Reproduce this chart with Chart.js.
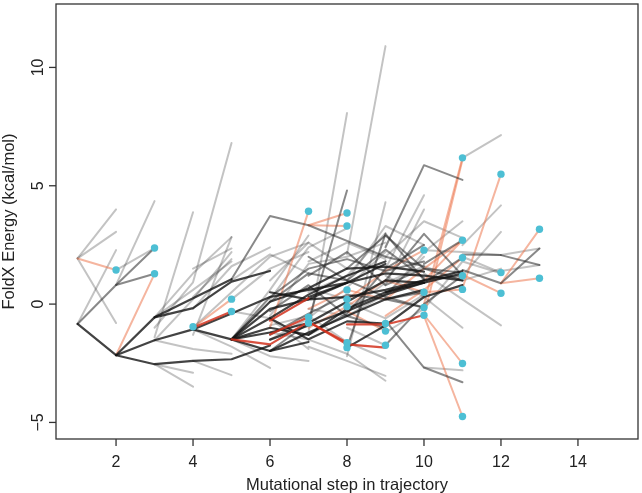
<!DOCTYPE html>
<html>
<head>
<meta charset="utf-8">
<script src="https://cdn.jsdelivr.net/npm/chart.js@4.4.1/dist/chart.umd.min.js"></script>
<style>
  html, body { margin: 0; padding: 0; background: #fff; }
  #wrap { width: 642px; height: 493px; }
</style>
</head>
<body>
<div id="wrap"><canvas id="foldx" width="642" height="493"></canvas></div>
<script>
// each path: [first step, energy at that step, energy at next step, ...]
var lightPaths = [
  [1, 1.93, 4.0], [1, 1.93, 3.05], [1, 1.93, -0.8], [1, -0.84, 2.28],
  [2, 0.81, 4.35], [2, 1.44, 2.37],
  [3, -1.4, 3.88], [3, -0.56, 1.3, 2.83], [3, -1.0, 0.92, 6.81],
  [3, -2.54, -2.9], [3, -2.54, -3.49], [3, -1.53, 0.2, 2.2],
  [3, -0.56, 0.6, 1.8], [3, -1.53, -1.9, -2.1],
  [4, -0.2, 1.6, 2.4], [4, -1.0, 0.5, 2.0, 2.6], [4, 0.3, 1.9], [4, 1.5, 2.35],
  [4, -2.4, -3.0], [4, -1.07, -1.8, -2.7], [4, -1.3, 2.83],
  [5, -1.49, 0.6, 2.9], [5, 0.2, 1.5, 2.2], [5, -1.49, -2.2, -2.4],
  [5, -0.3, -0.6, -1.9], [5, 1.0, 2.1, 1.3],
  [6, 0.2, 2.4, 3.2], [6, -0.5, 1.7, 2.0, 2.6], [6, -1.2, -1.5, -2.1, -3.24],
  [6, 1.0, 2.6, 1.5], [6, -0.9, -0.5, -1.6, -2.3], [6, -1.5, -0.6, 0.7, 2.2],
  [7, -1.8, -2.4, -3.03], [7, -1.2, 8.07], [7, 0.5, 1.2, 3.0],
  [7, -0.2, -0.5, 0.4, 2.0], [7, 0.67, 0.2], [7, 1.8, 2.6, 1.9],
  [8, 2.1, 10.9], [8, -2.2, 4.3], [8, 1.0, 3.3, 2.5],
  [8, -0.3, 0.9, 1.6, 1.0, 1.5], [8, -1.0, -1.74], [8, 0.1, -0.6, 0.4],
  [9, 0.3, 2.2, 3.5], [9, 1.5, 4.6], [9, 0.8, 4.0], [9, 2.0, 3.5, 2.8],
  [9, -1.2, -0.2, 1.8, 1.3], [9, 1.2, 0.3, -1.0], [10, 1.3, 0.2, -0.9],
  [10, 2.28, 2.2, 2.07], [10, -2.68, -2.8],
  [11, 6.18, 7.14], [11, 2.49, 4.17], [11, 1.2, 3.05], [11, 2.0, 1.33],
  [12, 1.4, 1.65], [12, 2.07, 2.35]
];

var midPaths = [
  [1, -0.84, 0.81, 2.37], [2, 0.81, 1.28],
  [5, 1.05, 3.72, 3.33, 2.67, 2.0, 1.6],
  [6, -1.98, -0.8], [7, -0.7, 4.8],
  [8, -1.84, 2.97, 1.02, 1.2],
  [9, 2.4, 5.87, 5.25], [9, 1.0, 2.97, 1.2], [9, -0.7, -2.68, -3.3],
  [6, 0.1, 1.3, 1.0, 2.3, 1.1], [5, -1.49, 0.3, 1.5, 1.9, 1.4, 1.8],
  [7, 1.2, 2.2, 0.8, 1.5, 1.33], [6, -1.3, -0.4, 0.4, 0.2, -0.14],
  [7, -1.3, -0.4, 1.5, 2.5], [8, 1.5, 2.9, 1.5, 1.0], [6, -0.3, 0.8, -0.5, -1.0],
  [9, -1.74, 0.0, 1.2], [7, 2.0, 1.0, 0.3, -0.14],
  [9, 0.2, 0.5], [10, 1.7, 2.7], [10, 0.9, 1.96],
  [11, 1.44, 0.88, 2.35], [11, 2.1, 2.07, 1.65]
];

var darkPaths = [
  [1, -0.84, -2.16, -0.56, 0.25, 1.05],
  [2, -2.16, -1.53, -1.07, -1.49, -1.98, -1.6],
  [2, -2.16, -2.54, -2.4, -2.33, -1.75],
  [3, -0.56, -0.17, 0.95, 1.4],
  [4, -1.07, -0.4, 0.3, 0.6, 0.9],
  [5, -1.49, -0.6, -1.49, -0.73, -0.82],
  [5, -1.49, 0.1, 0.67, 1.5, 1.58, 1.37],
  [5, -1.49, -1.0, -1.3, -0.2, 0.5, 0.9],
  [5, -1.49, -0.2, 0.2, 0.3, 0.6, 1.0],
  [5, -1.49, -1.2, -0.8, 0.1, 1.0, 0.9],
  [6, -1.98, -1.2, -0.5, 0.2, 0.6],
  [6, -1.5, -0.9, -0.3, 0.4, 0.9, 1.3],
  [6, -0.6, 0.4, 1.2, 1.8],
  [6, 0.5, 0.2, 0.9, 1.7],
  [7, 0.3, 0.9, 1.3, 1.2, 1.0],
  [8, -1.84, -0.9, 0.3, 0.8],
  [9, 0.5, 1.0, 1.4]
];

var redPaths = [
  [4, -1.0, -0.31],
  [5, -1.49, -1.7, -0.75, -1.7, -1.84],
  [6, -1.28, -0.55], [6, -0.7, 0.25],
  [7, -0.75, -1.63], [8, -0.86, -0.86, -0.47]
];

var salmonPaths = [
  [1, 1.93, 1.44], [2, -2.16, 1.28], [4, -1.0, 0.21],
  [6, -1.0, 3.92], [7, 3.33, 3.85], [7, 3.33, 3.3],
  [7, -0.2, 0.6], [7, -1.0, -0.1], [8, -0.3, -1.14],
  [8, 0.2, 1.4, 2.28], [8, 0.6, 0.2, 1.5, 2.7], [9, -0.5, 0.6, 1.96],
  [8, -0.1, 1.0, 0.5, 0.62], [10, 1.0, 2.7],
  [10, 0.0, 6.18], [10, -0.5, 6.1], [10, -0.5, -4.75], [10, -0.45, -2.51],
  [11, 0.67, 5.49], [11, 1.24, 0.46], [12, 0.88, 3.16], [12, 0.88, 1.09]
];

// trajectory end points (cyan dots)
var endSteps = [2, 3, 3, 4, 5, 5, 7, 7, 7, 8, 8, 8, 8, 8, 8, 8, 9, 9, 9,
  10, 10, 10, 10, 11, 11, 11, 11, 11, 11, 11, 12, 12, 12, 13, 13];
var endValues = [1.44, 2.37, 1.28, -0.96, 0.21, -0.31, 3.92, -0.55, -0.8,
  3.85, 3.3, 0.6, 0.2, -0.1, -1.63, -1.84, -0.82, -1.14, -1.74,
  2.28, 0.5, -0.14, -0.47, 6.18, 2.7, 1.96, 1.2, 0.62, -2.51, -4.75,
  5.49, 1.33, 0.46, 3.16, 1.09];

var xTicks = [2, 4, 6, 8, 10, 12, 14];
var yTicks = [-5, 0, 5, 10];
var yTickLabels = ['\u22125', '0', '5', '10'];

var FONT = '"Liberation Sans", Arial, Helvetica, sans-serif';

function toPoints(path) {
  var pts = [];
  for (var i = 1; i < path.length; i++) {
    pts.push({ x: path[0] + i - 1, y: path[i] });
  }
  return pts;
}

function lineSets(paths, color, width) {
  return paths.map(function (p) {
    return {
      type: 'line',
      data: toPoints(p),
      borderColor: color,
      borderWidth: width,
      pointRadius: 0,
      fill: false,
      tension: 0,
      borderCapStyle: 'round',
      borderJoinStyle: 'round'
    };
  });
}

var dots = {
  type: 'scatter',
  data: endSteps.map(function (s, i) { return { x: s, y: endValues[i] }; }),
  backgroundColor: '#4dbfd4',
  borderColor: '#4dbfd4',
  borderWidth: 0,
  pointRadius: 3.7
};

// first dataset is painted last, so list top layer first
var datasets = [dots]
  .concat(lineSets(redPaths, 'rgba(210,50,30,0.85)', 2.2))
  .concat(lineSets(darkPaths, 'rgba(20,20,20,0.8)', 2.2))
  .concat(lineSets(midPaths, 'rgba(40,40,40,0.55)', 2))
  .concat(lineSets(salmonPaths, 'rgba(236,120,80,0.55)', 2))
  .concat(lineSets(lightPaths, 'rgba(40,40,40,0.28)', 2));

// R style box, ticks and labels
var axesPlugin = {
  id: 'axesPlugin',
  afterDraw: function (chart) {
    var ctx = chart.ctx;
    var a = chart.chartArea;
    var xs = chart.scales.x, ys = chart.scales.y;
    ctx.save();
    ctx.strokeStyle = '#333';
    ctx.lineWidth = 1.3;
    ctx.strokeRect(a.left, a.top, a.right - a.left, a.bottom - a.top);

    ctx.fillStyle = '#222';
    ctx.font = '16px ' + FONT;
    ctx.textAlign = 'center';
    ctx.textBaseline = 'alphabetic';
    xTicks.forEach(function (t) {
      var px = xs.getPixelForValue(t);
      ctx.beginPath();
      ctx.moveTo(px, a.bottom);
      ctx.lineTo(px, a.bottom + 7);
      ctx.stroke();
      ctx.fillText(String(t), px, a.bottom + 28);
    });
    yTicks.forEach(function (t, i) {
      var py = ys.getPixelForValue(t);
      ctx.beginPath();
      ctx.moveTo(a.left, py);
      ctx.lineTo(a.left - 7, py);
      ctx.stroke();
      ctx.save();
      ctx.translate(a.left - 13.5, py);
      ctx.rotate(-Math.PI / 2);
      ctx.fillText(yTickLabels[i], 0, 0);
      ctx.restore();
    });

    ctx.font = '16.5px ' + FONT;
    ctx.fillText('Mutational step in trajectory', (a.left + a.right) / 2, 490);
    ctx.save();
    ctx.translate(13.5, (a.top + a.bottom) / 2);
    ctx.rotate(-Math.PI / 2);
    ctx.fillText('FoldX Energy (kcal/mol)', 0, 0);
    ctx.restore();
    ctx.restore();
  }
};

new Chart(document.getElementById('foldx').getContext('2d'), {
  type: 'line',
  data: { datasets: datasets },
  options: {
    responsive: false,
    animation: false,
    layout: { padding: { left: 56, right: 2, top: 0, bottom: 54 } },
    scales: {
      x: { type: 'linear', min: 0.44, max: 15.56, display: false },
      y: { type: 'linear', min: -5.70, max: 12.68, display: false }
    },
    plugins: {
      legend: { display: false },
      tooltip: { enabled: false }
    },
    events: []
  },
  plugins: [axesPlugin]
});
</script>
</body>
</html>
